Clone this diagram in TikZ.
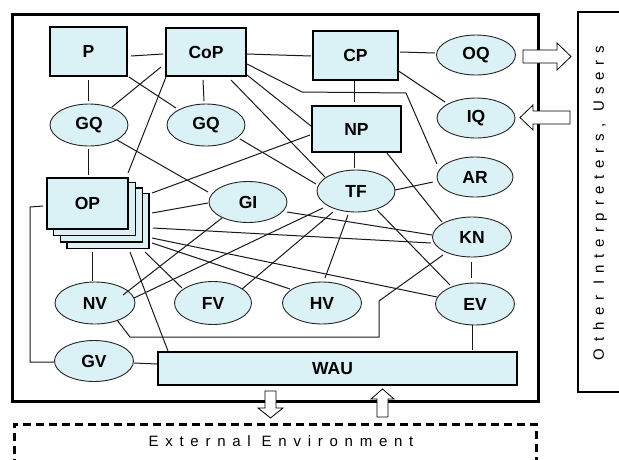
\documentclass[tikz,border=0pt]{standalone}
\usepackage{fontspec}
\setmainfont{Liberation Sans}
\newfontfamily\spacedfont[LetterSpace=45]{Liberation Sans}
\usetikzlibrary{shapes.geometric,calc}
\definecolor{nodefill}{RGB}{218,241,245}
\begin{document}
\begin{tikzpicture}[x=1pt,y=-1pt,
  boxnode/.style={draw=black,line width=1.4pt,fill=nodefill,rectangle,inner sep=0pt,font=\bfseries\fontsize{17.5}{17.5}\selectfont},
  ellnode/.style={draw=black!85,line width=0.9pt,fill=nodefill,ellipse,inner sep=0pt,font=\bfseries\fontsize{17.5}{17.5}\selectfont},
  link/.style={draw=black!90,line width=1pt},
  blockarrow/.style={draw=black,line width=0.8pt,fill=white},
  spaced/.style={font=\spacedfont\fontsize{15}{15}\selectfont}]
\clip (0,0) rectangle (619,459);
\useasboundingbox (0,0) rectangle (619,459);
\fill[white] (0,0) rectangle (619,459);
% frames
\draw[line width=3pt] (12,14) rectangle (538,401);
\node[draw=black,line width=1.5pt,minimum width=50pt,minimum height=380pt,inner sep=0pt] (users) at (603,202) {};
\node[spaced,rotate=90] (userstext) at (600,203) {Other Interpreters, Users};
\draw[line width=3pt,dash pattern=on 8pt off 5pt] (14,480) -- (14,424) -- (536,424) -- (536,480);
\node[spaced] (env) at (281,441) {External Environment};
% nodes
\node[boxnode,minimum width=77pt,minimum height=49pt] (P) at (88.5,51.5) {P};
\node[boxnode,minimum width=80pt,minimum height=48pt] (CoP) at (206,52) {CoP};
\node[boxnode,minimum width=85pt,minimum height=49pt] (CP) at (355.5,55.5) {CP};
\node[boxnode,minimum width=89pt,minimum height=46pt] (NP) at (356.5,129) {NP};
\node[ellnode,minimum width=79pt,minimum height=40pt] (OQ) at (476,55) {OQ};
\node[ellnode,minimum width=78pt,minimum height=40pt] (IQ) at (476,118) {IQ};
\node[ellnode,minimum width=76pt,minimum height=40pt] (AR) at (475,177) {AR};
\node[ellnode,minimum width=78pt,minimum height=42pt] (TF) at (356,191) {TF};
\node[ellnode,minimum width=79pt,minimum height=40pt] (KN) at (472,237) {KN};
\node[ellnode,minimum width=79pt,minimum height=42pt] (EV) at (475,304) {EV};
\node[ellnode,minimum width=79pt,minimum height=42pt] (HV) at (322,303) {HV};
\node[ellnode,minimum width=77pt,minimum height=43pt] (FV) at (213,303) {FV};
\node[ellnode,minimum width=80pt,minimum height=42pt] (NV) at (95,303) {NV};
\node[ellnode,minimum width=79pt,minimum height=41pt] (GV) at (94,361) {GV};
\node[ellnode,minimum width=78pt,minimum height=42pt] (GQa) at (89,125) {GQ};
\node[ellnode,minimum width=78pt,minimum height=42pt] (GQb) at (206,125) {GQ};
\node[ellnode,minimum width=78pt,minimum height=41pt] (GI) at (248,202) {GI};
\node[boxnode,line width=1.2pt,minimum width=359pt,minimum height=33pt] (WAU) at (337.5,368.5) {\hspace*{-10pt}WAU};
% OP stack
\node[boxnode,line width=1.2pt,minimum width=82pt,minimum height=55pt] (OPd) at (108,221) {};
\node[boxnode,line width=1.2pt,minimum width=82pt,minimum height=54pt] (OPc) at (101.5,215) {};
\node[boxnode,line width=1.2pt,minimum width=82pt,minimum height=53pt] (OPb) at (94.5,209) {};
\node[boxnode,minimum width=81pt,minimum height=51pt] (OP) at (87.5,203.5) {OP};
% connectors
\draw[link] ($(P)+(42.5,4.5)$) -- ($(CoP)+(-43,2)$);
\draw[link] ($(P)+(-0.5,28.5)$) -- ($(GQa)+(-1,-24)$);
\draw[link] ($(P)+(40.5,25.5)$) -- ($(GQb)+(-30,-17)$);
\draw[link] ($(CoP)+(-45,15)$) -- ($(GQa)+(23,-18)$);
\draw[link] ($(CoP)+(-40,25)$) -- ($(OP)+(40.5,-30.5)$);
\draw[link] ($(CoP)+(-3,28)$) -- ($(GQb)+(-2,-24)$);
\draw[link] ($(GQa)+(-1,24)$) -- ($(OP)+(0.5,-28.5)$);
\draw[link] ($(GQa)+(28,15)$) -- ($(GI)+(-40,-10)$);
\draw[link] ($(CoP)+(41,2)$) -- ($(CP)+(-44.5,0.5)$);
\draw[link] ($(CP)+(44.5,-3.5)$) -- ($(OQ)+(-41,-2)$);
\draw[link] ($(CP)+(-1.5,25.5)$) -- ($(NP)+(-2.5,-27)$);
\draw[link] ($(CP)+(41.5,14.5)$) -- ($(IQ)+(-31,-16)$);
\draw[link] ($(CoP)+(41,12)$) -- (302,92) -- (406,93) -- ($(AR)+(-38,-13)$);
\draw[link] ($(CoP)+(41,23)$) -- ($(NP)+(-45.5,-3)$);
\draw[link] ($(CoP)+(25,28)$) -- ($(TF)+(-31,-14)$);
\draw[link] ($(GQb)+(34,14)$) -- ($(TF)+(-40,-7)$);
\draw[link] ($(NP)+(-46.5,6)$) -- ($(OPc)+(50.5,-22)$);
\draw[link] ($(NP)+(-2.5,24)$) -- ($(TF)+(-2,-23)$);
\draw[link] ($(NP)+(30.5,24)$) -- ($(KN)+(-30,-15)$);
\draw[link] ($(TF)+(39,-1)$) -- ($(AR)+(-42,5)$);
\draw[link] ($(TF)+(21,19)$) -- ($(EV)+(-25,-19)$);
\draw[link] ($(TF)+(-8,24)$) -- ($(HV)+(3,-25)$);
\draw[link] ($(TF)+(-23,21)$) -- ($(FV)+(29,-14)$);
\draw[link] ($(TF)+(-33,17)$) -- ($(NV)+(39,-5)$);
\draw[link] ($(GI)+(-26,16)$) -- ($(NV)+(28,-8)$);
\draw[link] ($(GI)+(39,10)$) -- ($(KN)+(-40,-2)$);
\draw[link] ($(OPc)+(50.5,-2)$) -- ($(GI)+(-40,1)$);
\draw[link] ($(OPd)+(45,7)$) -- ($(KN)+(-41,6)$);
\draw[link] ($(OPd)+(44,17)$) -- ($(EV)+(-38,-7)$);
\draw[link] ($(OPd)+(44,22)$) -- ($(HV)+(-32,-14)$);
\draw[link] ($(OPd)+(37,31)$) -- ($(FV)+(-31,-15)$);
\draw[link] ($(OPd)+(22,31)$) -- ($(WAU)+(-169.5,-17.5)$);
\draw[link] ($(OPd)+(-16,31)$) -- ($(NV)+(-3,-22)$);
\draw[link] ($(OP)+(-44.5,2.5)$) -- (30,207) -- (30,362) -- ($(GV)+(-40,1)$);
\draw[link] ($(NV)+(22,17)$) -- (130,337) -- (379,337) -- (379,301) -- ($(KN)+(-29,18)$);
\draw[link] ($(KN)+(-1,25)$) -- ($(EV)+(-4,-26)$);
\draw[link] ($(EV)+(-3,21)$) -- ($(WAU)+(134.5,-18.5)$);
\draw[link] ($(GV)+(40,2)$) -- ($(WAU)+(-180.5,-4.5)$);
% block arrows
\draw[blockarrow] (523,50) -- (557,50) -- (557,43) -- (571,56.5) -- (557,70) -- (557,63) -- (523,63) -- cycle;
\draw[blockarrow] (570,111) -- (533,111) -- (533,105) -- (520,117.5) -- (533,130) -- (533,124) -- (570,124) -- cycle;
\draw[blockarrow] (265,391) -- (276,391) -- (276,408) -- (283,408) -- (270.5,418) -- (258,408) -- (265,408) -- cycle;
\draw[blockarrow] (377,417) -- (388,417) -- (388,399) -- (394,399) -- (382.5,389) -- (371,399) -- (377,399) -- cycle;
\end{tikzpicture}
\end{document}
